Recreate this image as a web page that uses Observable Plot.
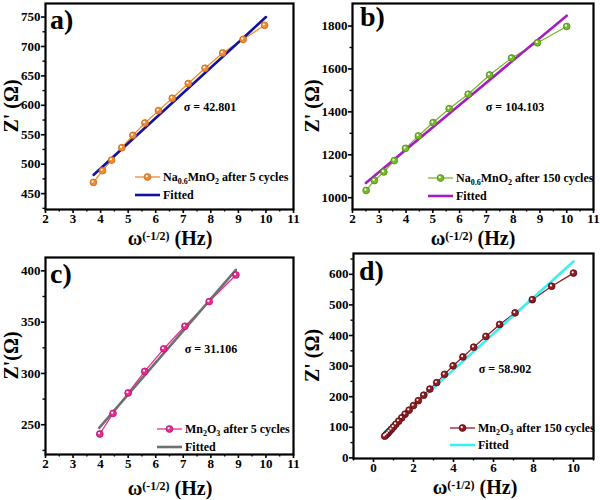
<!DOCTYPE html>
<html>
<head>
<meta charset="utf-8">
<script src="https://cdn.jsdelivr.net/npm/d3@7"></script>
<script src="https://cdn.jsdelivr.net/npm/@observablehq/plot@0.6"></script>
<style>
  body { margin: 0; background: #fff; }
  #wrap { position: relative; width: 600px; height: 500px; background: #fff; overflow: hidden; }
  .panel { position: absolute; width: 300px; height: 250px; }
</style>
</head>
<body>
<div id="wrap"></div>
<script>
// ---------- data ----------
// Panel a: Na0.6MnO2 after 5 cycles
const aX = [3.74, 4.07, 4.40, 4.77, 5.17, 5.61, 6.10, 6.60, 7.18, 7.79, 8.43, 9.17, 9.95];
const aY = [469, 489, 507, 528, 549, 570, 591, 612, 637, 663, 689, 712, 736];
const aFitX = [3.75, 10];
const aFitY = [482, 750];
// Panel b: Na0.6MnO2 after 150 cycles
const bX = [2.51, 2.82, 3.17, 3.56, 3.98, 4.46, 5.01, 5.61, 6.32, 7.12, 7.94, 8.91, 10.0];
const bY = [1034, 1080, 1120, 1173, 1230, 1288, 1350, 1415, 1482, 1572, 1651, 1722, 1798];
const bFitX = [2.5, 10];
const bFitY = [1069, 1848];
// Panel c: Mn2O3 after 5 cycles
const cX = [3.97, 4.45, 5.00, 5.60, 6.29, 7.06, 7.94, 8.91];
const cY = [241, 261, 281, 302, 324, 346, 370, 396];
const cFitX = [3.95, 8.91];
const cFitY = [247, 401];
// Panel d: Mn2O3 after 150 cycles
const dX = [10, 8.91, 7.94, 7.08, 6.31, 5.62, 5.01, 4.47, 3.98, 3.55, 3.16, 2.82, 2.51, 2.24, 2.0, 1.78, 1.58, 1.41, 1.26, 1.12, 1.0, 0.89, 0.79, 0.71, 0.63, 0.56];
const dY = [604, 561, 517, 474, 436, 397, 362, 330, 301, 273, 246, 225, 205, 187, 171, 156, 143, 131, 120, 110, 101, 93, 86, 80, 75, 71];
const dFitX = [0.56, 10];
const dFitY = [85, 642];

// tick labels
const xTicksABC = [2, 3, 4, 5, 6, 7, 8, 9, 10, 11];
const xMinorABC = [2.5, 3.5, 4.5, 5.5, 6.5, 7.5, 8.5, 9.5, 10.5];
const xTicksD = [0, 2, 4, 6, 8, 10];
const xMinorD = [-1, 1, 3, 5, 7, 9, 11];
const yTicksA = [450, 500, 550, 600, 650, 700, 750];
const yMinorA = [425, 475, 525, 575, 625, 675, 725];
const yTicksB = [1000, 1200, 1400, 1600, 1800];
const yMinorB = [1100, 1300, 1500, 1700];
const yTicksC = [250, 300, 350, 400];
const yMinorC = [225, 275, 325, 375];
const yTicksD = [0, 100, 200, 300, 400, 500, 600];
const yMinorD = [50, 150, 250, 350, 450, 550, 650];

// texts
const panelLetters = ["a)", "b)", "c)", "d)"];
const sigmaTexts = ["σ = 42.801", "σ = 104.103", "σ = 31.106", "σ = 58.902"];
// legend parts: [base, sub, base, sub, rest]
const legendNames = [
  ["Na", "0.6", "MnO", "2", " after 5 cycles"],
  ["Na", "0.6", "MnO", "2", " after 150 cycles"],
  ["Mn", "2", "O", "3", " after 5 cycles"],
  ["Mn", "2", "O", "3", " after 150 cycles"]
];
const yTitles = ["Z' (Ω)", "Z' (Ω)", "Z'(Ω)", "Z' (Ω)"];

const FONT = "'Liberation Serif', 'Times New Roman', serif";

const panels = [
  { left: 0, top: 0, x: aX, y: aY, fx: aFitX, fy: aFitY, xd: [2, 11], yd: [423, 773],
    xt: xTicksABC, xm: xMinorABC, yt: yTicksA, ym: yMinorA,
    m: [3, 7, 41, 45], col: "#F08A2E", colS: "#C8661A", fitCol: "#12129C", fitW: 2.6,
    letter: [50, 29], sigma: [210, 111], leg: [135, 177, 18], xTitle: [170, 245], yTitleX: 18 },
  { left: 300, top: 0, x: bX, y: bY, fx: bFitX, fy: bFitY, xd: [2, 11], yd: [945, 1905],
    xt: xTicksABC, xm: xMinorABC, yt: yTicksB, ym: yMinorB,
    m: [3, 7, 41, 52], col: "#79B82C", colS: "#4E8A14", fitCol: "#A51DBE", fitW: 2.6,
    letter: [60, 26], sigma: [215, 111], leg: [128, 178, 18], xTitle: [173, 245], yTitleX: 19 },
  { left: 0, top: 250, x: cX, y: cY, fx: cFitX, fy: cFitY, xd: [2, 11], yd: [221, 413],
    xt: xTicksABC, xm: xMinorABC, yt: yTicksC, ym: yMinorC,
    m: [7, 7, 46, 45], col: "#EA2A90", colS: "#B8106A", fitCol: "#707070", fitW: 2.6,
    letter: [50, 33], sigma: [211, 103], leg: [157, 179, 18], xTitle: [170, 245], yTitleX: 18 },
  { left: 300, top: 250, x: dX, y: dY, fx: dFitX, fy: dFitY, xd: [-1, 11], yd: [-2, 668],
    xt: xTicksD, xm: xMinorD, yt: yTicksD, ym: yMinorD,
    m: [3, 7, 42, 53], col: "#8E1C22", colS: "#5E0A10", fitCol: "#3CEFF0", fitW: 2.6,
    letter: [59, 30], sigma: [205, 123], leg: [150, 178, 17], xTitle: [175, 244], yTitleX: 19 }
];

const wrap = document.getElementById("wrap");
const fmt = d => String(d);

panels.forEach((p, i) => {
  const data = p.x.map((v, k) => ({ x: v, y: p.y[k] }));
  const fit = p.fx.map((v, k) => ({ x: v, y: p.fy[k] }));
  const [mt, mr, mb, ml] = p.m;
  const svg = Plot.plot({
    width: 300, height: 250,
    marginTop: mt, marginRight: mr, marginBottom: mb, marginLeft: ml,
    x: { domain: p.xd },
    y: { domain: p.yd },
    style: { fontFamily: FONT, fontSize: "13px", fontWeight: "bold", background: "white", color: "black", overflow: "visible" },
    marks: [
      Plot.axisX(p.xt, { tickSize: 4, tickPadding: 0, label: null, strokeWidth: 1.6, tickFormat: fmt }),
      Plot.axisX(p.xm, { tickSize: 2.5, tickFormat: () => "", label: null, strokeWidth: 1.4 }),
      Plot.axisY(p.yt, { tickSize: 4, tickPadding: 1, label: null, strokeWidth: 1.6, tickFormat: fmt }),
      Plot.axisY(p.ym, { tickSize: 2.5, tickFormat: () => "", label: null, strokeWidth: 1.4 }),
      Plot.line(data, { x: "x", y: "y", stroke: p.col, strokeWidth: 1.3 }),
      Plot.line(fit, { x: "x", y: "y", stroke: p.fitCol, strokeWidth: p.fitW }),
      Plot.dot(data, { x: "x", y: "y", r: 3.4, fill: p.col, stroke: p.colS, strokeWidth: 0.8 }),
      Plot.dot(data, { x: "x", y: "y", r: 1.1, fill: "white", stroke: "none", dx: -0.8, dy: -0.8 }),
      Plot.frame({ stroke: "black", strokeWidth: 2.2 })
    ]
  });

  const s = d3.select(svg);
  const g = s.append("g").attr("font-family", FONT).attr("font-weight", "bold")
    .attr("fill", "black").attr("text-anchor", "start");

  // panel letter
  g.append("text").attr("x", p.letter[0]).attr("y", p.letter[1])
    .attr("font-size", 28).text(panelLetters[i]);

  // sigma
  g.append("text").attr("x", p.sigma[0]).attr("y", p.sigma[1])
    .attr("font-size", 12).attr("text-anchor", "middle").text(sigmaTexts[i]);

  // legend
  const [lx, ly, lw] = p.leg;
  const lineLen = 25;
  g.append("line").attr("x1", lx).attr("x2", lx + lineLen).attr("y1", ly).attr("y2", ly)
    .attr("stroke", p.col).attr("stroke-width", 1.3);
  g.append("circle").attr("cx", lx + lineLen / 2).attr("cy", ly).attr("r", 3.4)
    .attr("fill", p.col).attr("stroke", p.colS).attr("stroke-width", 0.8);
  g.append("circle").attr("cx", lx + lineLen / 2 - 0.8).attr("cy", ly - 0.8).attr("r", 1.1).attr("fill", "white");
  const parts = legendNames[i];
  const t = g.append("text").attr("x", lx + lineLen + 3).attr("y", ly + 4).attr("font-size", 12);
  t.append("tspan").text(parts[0]);
  t.append("tspan").attr("font-size", 8).attr("dy", 3).text(parts[1]);
  t.append("tspan").attr("dy", -3).text(parts[2]);
  t.append("tspan").attr("font-size", 8).attr("dy", 3).text(parts[3]);
  t.append("tspan").attr("dy", -3).text(parts[4]);

  g.append("line").attr("x1", lx).attr("x2", lx + lineLen).attr("y1", ly + lw).attr("y2", ly + lw)
    .attr("stroke", p.fitCol).attr("stroke-width", p.fitW);
  g.append("text").attr("x", lx + lineLen + 3).attr("y", ly + lw + 4).attr("font-size", 12).text("Fitted");

  // x title
  const xt = g.append("text").attr("x", p.xTitle[0]).attr("y", p.xTitle[1])
    .attr("font-size", 20).attr("text-anchor", "middle");
  xt.append("tspan").text("ω");
  xt.append("tspan").attr("font-size", 12).attr("dy", -5).text("(-1/2)");
  xt.append("tspan").attr("dy", 5).text(" (Hz)");

  // y title
  const cy = mt + (250 - mt - mb) / 2;
  g.append("text").attr("transform", `translate(${p.yTitleX},${cy}) rotate(-90)`)
    .attr("font-size", 20).attr("text-anchor", "middle").text(yTitles[i]);

  const div = document.createElement("div");
  div.className = "panel";
  div.style.left = p.left + "px";
  div.style.top = p.top + "px";
  div.appendChild(svg);
  wrap.appendChild(div);
});
</script>
</body>
</html>
